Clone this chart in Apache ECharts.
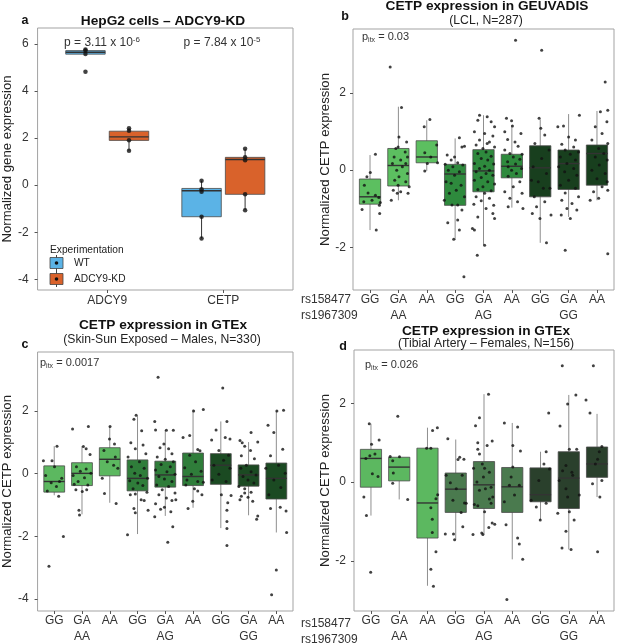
<!DOCTYPE html>
<html>
<head>
<meta charset="utf-8">
<title>ADCY9 knock-down and CETP expression</title>
<script src="https://cdn.jsdelivr.net/npm/echarts@6/dist/echarts.min.js"></script>
<style>
    html, body {margin: 0; padding: 0; background: #fff;}
    #chart {width: 617px; height: 644px;}
</style>
</head>
<body>
<div id="chart"></div>
<script>
// ---------- panel a : HepG2 cells ----------
const genes = ['ADCY9', 'CETP'];
const experiments = ['WT', 'ADCY9-KD'];
// [min, Q1, median, Q3, max] for each gene
const wtBoxes = [[5.56, 5.56, 5.64, 5.71, 5.76], [-2.26, -1.34, -0.24, -0.14, 0.19]];
const kdBoxes = [[1.46, 1.90, 2.05, 2.29, 2.41], [-1.06, -0.39, 1.09, 1.18, 1.54]];
const wtPoints = [[5.76, 5.72, 5.57, 4.81], [0.19, -0.17, -0.28, -1.34, -2.26]];
const kdPoints = [[2.41, 2.31, 1.91, 1.46], [1.54, 1.18, 1.06, -0.39, -1.06]];
const pMantissa = ['3.11', '7.84'];
const pExponent = ['-6', '-5'];

// ---------- panels b-d : genotype groups ----------
const rs158477 = ['GG', 'GA', 'AA', 'GG', 'GA', 'AA', 'GG', 'GA', 'AA'];
const rs1967309 = ['', 'AA', '', '', 'AG', '', '', 'GG', ''];
const pItx = ['0.03', '0.0017', '0.026'];

// b : GEUVADIS, [min, Q1, median, Q3, max]
const geuvadisBoxes = [
    [-1.55, -0.88, -0.69, -0.23, 0.39], [-0.78, -0.41, 0.12, 0.56, 1.64], [-0.02, 0.19, 0.34, 0.76, 1.29],
    [-1.81, -0.91, -0.10, 0.15, 0.82], [-1.94, -0.56, -0.02, 0.53, 1.42], [-0.97, -0.20, 0.10, 0.41, 1.16],
    [-1.88, -0.69, 0.06, 0.63, 1.31], [-1.21, -0.50, 0.17, 0.52, 1.45], [-0.78, -0.39, 0.43, 0.65, 1.53]
];
// jitter offset and value of each sample, one list per genotype group
const geuvadisPoints = [
    [[0.19, 0.41], [0.01, -0.06], [-0.11, -0.17], [-0.2, -0.39], [-0.07, -0.59], [0.19, -0.65], [0.31, -0.71], [0.07, -0.78], [-0.22, -0.82], [0.36, -0.84], [0.33, -0.91], [-0.28, -1.02], [0.34, -1.12], [0.22, -1.55]],
    [[-0.29, 2.67], [0.11, 1.62], [0.02, 0.86], [0.29, 0.73], [-0.01, 0.6], [-0.09, 0.56], [0.24, 0.47], [-0.15, 0.34], [0.32, 0.34], [0.08, 0.26], [-0.21, 0.17], [0.26, 0.17], [0.14, 0.09], [-0.06, 0], [0.32, -0.09], [0.02, -0.17], [-0.13, -0.26], [0.26, -0.3], [-0.01, -0.39], [0.38, -0.43], [-0.18, -0.52], [0.08, -0.56], [-0.04, -0.6], [0.34, -0.6], [-0.25, -0.78]],
    [[0.11, 1.31], [-0.09, 1.12], [0.35, 0.65], [-0.07, 0.45], [0.14, 0.34], [0.38, 0.19], [0.02, 0.17], [-0.07, -0.02]],
    [[0.15, 0.84], [0.33, 0.62], [0.24, 0.6], [-0.28, 0.39], [-0.02, 0.34], [-0.14, 0.26], [0.09, 0.19], [-0.35, 0.15], [0.27, 0.13], [-0.08, 0.09], [-0.24, 0], [0.15, -0.04], [-0.02, -0.13], [-0.32, -0.3], [-0.14, -0.34], [0.21, -0.39], [0.04, -0.52], [-0.2, -0.6], [0.33, -0.69], [-0.38, -0.78], [0.09, -0.9], [-0.11, -0.9], [0.24, -1.03], [0.09, -1.29], [-0.26, -1.36], [0.15, -1.55], [-0.05, -1.79], [0.31, -2.76]],
    [[-0.14, 1.42], [0.13, 1.38], [0.27, 1.25], [-0.2, 1.29], [0.39, 1.12], [-0.32, 0.99], [0.04, 0.95], [0.33, 0.88], [-0.14, 0.78], [0.21, 0.73], [0.13, 0.69], [-0.26, 0.65], [0.39, 0.6], [-0.02, 0.56], [0.09, 0.47], [-0.2, 0.43], [0.27, 0.36], [-0.08, 0.3], [0.15, 0.26], [-0.32, 0.17], [0.36, 0.16], [0.04, 0.1], [-0.14, 0.04], [0.21, 0], [-0.26, -0.04], [0.09, -0.09], [0.33, -0.13], [-0.08, -0.19], [-0.32, -0.26], [0.15, -0.3], [0.39, -0.36], [-0.02, -0.43], [-0.2, -0.5], [0.27, -0.53], [0.04, -0.6], [-0.26, -0.69], [0.21, -0.73], [-0.08, -0.79], [-0.34, -0.88], [0.36, -0.91], [0.09, -0.99], [0.33, -1.12], [-0.2, -1.21], [0.39, -1.25], [-0.39, -1.51], [-0.32, -1.55], [0.04, -1.94], [-0.22, -2.2]],
    [[-0.19, 1.34], [-0.01, 1.28], [0.02, 1.14], [-0.25, 0.99], [0.32, 0.95], [-0.15, 0.79], [0.11, 0.73], [0.22, 0.62], [-0.25, 0.52], [-0.07, 0.43], [0.36, 0.41], [0.05, 0.34], [0.28, 0.28], [-0.15, 0.22], [0.13, 0.16], [-0.13, 0.09], [0.34, 0.04], [-0.01, 0], [0.16, -0.09], [-0.13, -0.16], [0.28, -0.3], [0.05, -0.43], [-0.25, -0.56], [0.36, -0.6], [-0.07, -0.73], [0.2, -0.82], [-0.13, -0.95], [0.39, -0.99], [0.13, 3.36]],
    [[0.05, 3.1], [-0.04, 1.34], [0.02, 1.08], [0.16, 0.91], [-0.19, 0.69], [0.31, 0.52], [0.05, 0.3], [-0.25, 0.09], [0.22, -0.09], [-0.31, -0.26], [-0.07, -0.3], [0.34, -0.47], [0.11, -0.47], [-0.21, -0.69], [0.16, -0.82], [-0.13, -0.95], [-0.28, -1.12], [0.38, -1.16], [-0.01, -1.25], [0.22, -1.88]],
    [[-0.18, 1.14], [-0.38, 1.12], [0.38, 1.42], [0, 0.86], [0.24, 0.78], [-0.24, 0.67], [0.18, 0.6], [-0.12, 0.52], [0.35, 0.47], [0.06, 0.41], [-0.29, 0.34], [0.24, 0.26], [-0.06, 0.17], [-0.35, 0.09], [0.18, 0.04], [-0.14, -0.04], [0.29, -0.13], [0, -0.26], [-0.29, -0.39], [0.24, -0.47], [-0.12, -0.59], [0.35, -0.69], [-0.24, -0.78], [0.12, -0.86], [-0.06, -0.99], [0.29, -1.03], [-0.26, -1.16], [0.06, -1.25], [-0.12, -2.07]],
    [[0.29, 2.28], [0.38, 1.55], [0.12, 1.51], [0.35, 1.25], [-0.06, 1.12], [0.18, 0.95], [-0.18, 0.78], [0.38, 0.69], [0.06, 0.56], [0.24, 0.43], [-0.06, 0.34], [0.36, 0.26], [0.08, 0.13], [-0.18, 0], [0.29, -0.09], [0, -0.22], [0.36, -0.3], [0.18, -0.43], [-0.12, -0.56], [0.38, -0.52], [0.06, -0.73], [-0.24, -0.78], [0.38, -2.16]]
];

// c : GTEx skin, sun exposed, males
const skinBoxes = [
    [-0.69, -0.59, -0.25, 0.25, 0.88], [-1.30, -0.38, 0.01, 0.35, 0.88], [-0.93, -0.07, 0.46, 0.83, 1.51],
    [-1.93, -0.55, -0.15, 0.44, 1.84], [-1.35, -0.43, -0.04, 0.40, 1.40], [-1.09, -0.38, -0.09, 0.66, 2.05],
    [-1.74, -0.34, 0.27, 0.64, 1.67], [-1.33, -0.40, -0.04, 0.28, 1.01], [-1.88, -0.81, -0.15, 0.34, 2.00]
];
const skinPoints = [
    [[-0.39, 0.41], [-0.08, 0.41], [0.1, 0.88], [-0.31, -0.06], [0.01, 0.22], [0.19, -0.25], [0.27, -0.15], [-0.25, -0.55], [0.16, -0.72], [0.33, -2.01], [-0.19, -2.96], [-0.11, -0.29], [0.08, -0.41]],
    [[-0.34, 1.43], [0.23, 1.51], [0.05, 0.87], [0.15, 0.8], [0.29, 0.61], [-0.2, 0.22], [0.15, 0.15], [-0.06, 0.08], [0.32, 0.01], [-0.32, -0.06], [0.09, -0.13], [-0.14, -0.25], [0.21, -0.36], [-0.22, -0.51], [0.01, -0.57], [0.17, -0.51], [-0.11, -1.17], [-0.09, -1.32], [-0.28, -0.34]],
    [[0.01, 1.51], [-0.01, 1.11], [0.17, 0.95], [-0.21, 0.74], [0.2, 0.53], [-0.09, 0.38], [0.14, 0.27], [0.29, 0.17], [-0.27, -0.15], [-0.19, -0.63], [0.23, -0.95]],
    [[-0.05, 1.87], [-0.13, 1.74], [0.15, 1.37], [-0.24, 0.99], [0.2, 0.92], [-0.08, 0.8], [0.3, 0.64], [-0.34, 0.53], [0.07, 0.38], [-0.22, 0.22], [0.24, 0.17], [-0.1, 0.01], [0.1, -0.06], [0.36, -0.15], [-0.28, -0.23], [0.01, -0.3], [0.19, -0.38], [-0.16, -0.48], [0.34, -0.59], [-0.26, -0.67], [-0.08, -0.65], [0.13, -0.83], [0.24, -0.86], [-0.13, -1.11], [-0.08, -1.25], [-0.36, -1.95], [0.38, -1.17]],
    [[-0.26, 3.08], [-0.38, 1.67], [-0.35, 1.4], [0.04, 1.39], [0.29, 1.39], [-0.05, 0.95], [-0.19, 0.83], [0.12, 0.8], [0.24, 0.64], [-0.29, 0.53], [0, 0.46], [0.29, 0.38], [-0.15, 0.29], [0.18, 0.22], [-0.35, 0.12], [0.06, 0.06], [0.35, -0.02], [-0.23, -0.09], [-0.03, -0.17], [0.24, -0.25], [-0.31, -0.36], [0.12, -0.41], [-0.11, -0.51], [0.35, -0.62], [-0.23, -0.67], [0.04, -0.78], [0.24, -0.86], [-0.35, -0.96], [-0.03, -1.07], [-0.17, -1.14], [0.2, -1.22], [-0.38, -1.38], [0.27, -1.7], [0.09, -2.19], [0.38, -0.83]],
    [[0.37, 2.05], [0.02, 2.0], [-0.12, 1.22], [-0.36, 1.16], [0.17, 0.77], [-0.12, 0.59], [0.25, 0.73], [0.09, 0.38], [-0.3, 0.19], [0.29, 0.08], [-0.06, -0.02], [-0.22, -0.2], [0.17, -0.25], [-0.26, -0.36], [0.05, -0.48], [0.32, -0.67], [-0.01, -0.88], [-0.18, -1.11], [0.17, -0.55], [0.37, -0.27]],
    [[0.07, 2.74], [0.22, 1.67], [-0.17, 1.4], [0.16, 1.16], [0.33, 1.11], [-0.33, 1.08], [-0.07, 0.74], [0.28, 0.59], [0.1, 0.43], [-0.25, 0.27], [0.33, 0.17], [-0.07, -0.02], [-0.31, -0.2], [0.19, -0.25], [0.02, -0.67], [0.37, -0.7], [0.25, -0.93], [0.22, -1.17], [0.22, -1.53], [0.22, -1.75], [0.22, -2.3]],
    [[0.09, 1.32], [-0.31, 1.06], [-0.23, 0.99], [0.33, 1.01], [-0.14, 0.88], [0.07, 0.74], [-0.26, 0.57], [0.21, 0.48], [-0.08, 0.27], [-0.28, 0.17], [0.09, 0.06], [0.27, -0.04], [-0.2, -0.09], [-0.02, -0.2], [0.19, -0.3], [-0.35, -0.41], [-0.14, -0.48], [0.09, -0.59], [-0.26, -0.72], [-0.02, -0.75], [0.15, -0.88], [-0.31, -0.83], [0.33, -1.35], [0.29, -1.46], [-0.14, -0.62]],
    [[0.26, 2.03], [0.02, 2.0], [-0.3, 1.55], [-0.09, 1.32], [0.23, 0.78], [-0.21, 0.57], [0.08, 0.27], [-0.38, 0.17], [0.32, 0.01], [-0.09, -0.2], [0.16, -0.44], [-0.27, -0.67], [-0.21, -1.11], [0.14, -1.07], [0.35, -1.19], [0.37, -1.88], [0, -3.08], [-0.17, -3.87]]
];

// d : GTEx tibial artery, females
const arteryBoxes = [
    [-0.85, -0.13, 0.60, 0.83, 1.48], [-0.44, 0.03, 0.38, 0.63, 0.65], [-2.63, -1.42, -0.53, 0.86, 1.38],
    [-1.46, -0.77, -0.18, 0.23, 1.08], [-1.33, -0.67, -0.07, 0.52, 2.23], [-1.96, -0.77, -0.12, 0.37, 1.50],
    [-0.96, -0.50, -0.32, 0.36, 0.77], [-1.71, -0.67, 0.10, 0.77, 2.21], [-0.38, 0.12, 0.46, 0.89, 1.73]
];
const arteryPoints = [
    [[-0.06, 1.48], [0.29, 1.07], [0.02, 0.96], [0.14, 0.71], [-0.04, 0.67], [-0.18, 0.6], [0.25, 0.14], [0.05, 0.21], [-0.25, -0.38], [-0.16, -0.85], [-0.01, -2.29]],
    [[-0.05, 1.67], [-0.32, 0.65], [0.01, 0.64], [-0.23, 0.54], [-0.21, 0.23], [-0.23, -0.03], [0.3, -0.44]],
    [[0.35, 1.38], [0.18, 1.31], [-0.03, 0.86], [0.12, 0.86], [0.36, -0.32], [0.3, -0.42], [0.12, -0.65], [0.17, -0.94], [0.17, -1.28], [0.3, -1.77], [0.12, -2.21], [0.21, -2.64]],
    [[-0.28, 1.1], [0.14, 0.63], [0.08, 0.57], [0.29, 0.58], [-0.34, 0.17], [-0.19, -0.02], [0.23, 0.17], [0.02, -0.17], [-0.1, -0.46], [0.31, -0.53], [0.37, -0.54], [0.19, -0.77], [0.25, -1.13], [-0.37, -1.32], [-0.08, -1.32], [-0.04, -1.46]],
    [[0.16, 2.23], [-0.16, 1.63], [-0.3, 1.43], [-0.22, 1.0], [0.29, 1.04], [0.11, 0.93], [-0.22, 0.83], [-0.16, 0.71], [-0.06, 0.46], [-0.37, 0.35], [0.02, 0.35], [0.19, 0.25], [-0.02, 0.13], [-0.25, 0], [0.25, -0.13], [0.05, -0.17], [-0.16, -0.21], [0.31, -0.38], [0.19, -0.43], [-0.34, -0.57], [-0.22, -0.6], [0.25, -0.54], [0.02, -0.75], [0.29, -1.04], [0.38, -1.07], [0.17, -1.15], [-0.08, -1.29], [-0.04, -1.33], [-0.39, -1.33]],
    [[-0.28, 1.5], [0.19, 1.4], [0.02, 0.93], [0.29, 0.79], [0.02, 0.38], [-0.04, 0.13], [-0.1, -0.08], [0.25, -0.08], [0.08, -0.33], [-0.28, -0.5], [-0.22, -1.08], [0.19, -1.42], [0.25, -1.57], [0.37, -1.96], [-0.19, -2.98]],
    [[0.29, 1.75], [0.2, 0.77], [0.12, 0.46], [0.32, 0.33], [-0.06, 0.04], [-0.33, -0.46], [0.2, -0.54], [-0.15, -0.63], [-0.01, -0.96]],
    [[-0.23, 2.95], [0.25, 2.21], [-0.04, 1.98], [-0.31, 1.42], [0.02, 0.83], [0.28, 0.83], [-0.1, 0.42], [-0.22, 0.29], [0.11, 0.25], [0.14, 0.17], [-0.34, 0.04], [-0.1, -0.17], [0.37, -0.33], [-0.04, -0.38], [-0.39, -0.79], [0.02, -0.75], [0.19, -0.96], [-0.1, -1.25], [-0.24, -1.67], [0.08, -1.71]],
    [[-0.13, 2.95], [-0.39, 2.08], [-0.25, 1.75], [0.17, 0.9], [0.08, 0.77], [0.02, 0.58], [-0.06, 0.46], [0.17, 0.04], [-0.16, -0.04], [0.1, -0.38], [0.02, -1.77]]
];

// ---------- styling ----------
const FONT = 'Liberation Sans';
const TXT = '#333';
const dodge = 0.1875;
const genoIdx = rs158477.map((g, i) => i);

const chart = echarts.init(document.getElementById('chart'), null, {renderer: 'canvas'});

const boxSeries = (k, rows, fills, st) => ({
    type: 'custom',
    xAxisIndex: k,
    yAxisIndex: k,
    data: rows,
    encode: {x: 0, y: [1, 2, 3, 4, 5]},
    silent: true,
    z: 2,
    renderItem: (params, api) => {
        let x = api.value(0);
        let pt = d => api.coord([x, api.value(d)]);
        let lo = pt(1), q1 = pt(2), med = pt(3), q3 = pt(4), hi = pt(5);
        let w = api.size([st.width, 0])[0];
        let left = lo[0] - w / 2;
        return {
            type: 'group',
            children: [
                {type: 'line', shape: {x1: lo[0], y1: lo[1], x2: hi[0], y2: hi[1]}, style: {stroke: st.whisker, lineWidth: 1}},
                {type: 'rect', shape: {x: left, y: q3[1], width: w, height: q1[1] - q3[1]},
                    style: {fill: fills[api.value(6)], stroke: st.border, lineWidth: 0.8}},
                {type: 'line', shape: {x1: left, y1: med[1], x2: left + w, y2: med[1]}, style: {stroke: st.median, lineWidth: 1.4}}
            ]
        };
    }
});

const pointSeries = (k, data, size) => ({
    type: 'scatter',
    xAxisIndex: k,
    yAxisIndex: k,
    data: data,
    symbolSize: size,
    itemStyle: {color: '#111'},
    silent: true,
    z: 3
});

const genoRows = boxes => boxes.map((b, i) => [i].concat(b, [Math.floor(i / 3)]));
const genoPts = pts => pts.flatMap((grp, i) => grp.map(([dx, v]) => [i + dx, v]));

const yAxis = (k, min, max, ticks, name, gap, margin) => ({
    type: 'value', gridIndex: k, min: min, max: max,
    name: name, nameLocation: 'middle', nameGap: gap,
    nameTextStyle: {fontFamily: FONT, fontSize: 13.2, color: '#222'},
    axisLine: {show: false, onZero: false},
    splitLine: {show: false},
    axisTick: {show: true, length: 3, customValues: ticks, lineStyle: {color: '#555'}},
    axisLabel: {customValues: ticks, fontFamily: FONT, fontSize: 12, color: TXT, margin: margin}
});

const genoX = k => ({
    type: 'value', gridIndex: k, min: -0.6, max: 8.6,
    axisLine: {show: false, onZero: false},
    splitLine: {show: false},
    axisTick: {show: true, length: 3, customValues: genoIdx, lineStyle: {color: '#555'}},
    axisLabel: {
        customValues: genoIdx,
        formatter: v => rs158477[v] + '\n' + (rs1967309[v] || ' '),
        fontFamily: FONT, fontSize: 12, color: TXT, lineHeight: 15.5, margin: 2
    }
});

const gridBase = {show: true, borderColor: '#a3a3a3', borderWidth: 1, backgroundColor: '#fff'};

const txt = (x, y, text, extra) => ({
    type: 'text', x: x, y: y, silent: true,
    style: Object.assign({text: text, fontFamily: FONT, fontSize: 12, fill: '#222',
        align: 'center', verticalAlign: 'middle'}, extra || {})
});

const pLabel = (x, y, i) => txt(x, y, `{n|p}{s|itx}{n| = ${pItx[i]}}`, {
    align: 'left',
    rich: {n: {fontFamily: FONT, fontSize: 11, fill: TXT, lineHeight: 13},
        s: {fontFamily: FONT, fontSize: 7, fill: TXT, lineHeight: 13, verticalAlign: 'bottom'}}
});

const legendKey = (y, fill) => [
    {type: 'line', silent: true, shape: {x1: 56.5, y1: y - 8, x2: 56.5, y2: y + 8}, style: {stroke: '#444', lineWidth: 1}},
    {type: 'rect', silent: true, shape: {x: 50, y: y - 5.5, width: 13, height: 11}, style: {fill: fill, stroke: '#444', lineWidth: 0.8}},
    {type: 'circle', silent: true, shape: {cx: 56.5, cy: y, r: 1.8}, style: {fill: '#111'}}
];

const expFills = ['#5BB3E6', '#D9622B'];
const geuvadisFills = ['#5CBF60', '#2E8A3D', '#183F1E'];
const skinFills = ['#5CB860', '#2F7D3A', '#1B4A22'];
const arteryFills = ['#5CB860', '#4A7A4E', '#2A402C'];
const genoStyle = {width: 0.75, whisker: '#8f8f8f', border: '#4a4a4a', median: '#333'};

const aRows = genes.map((g, i) => [i - dodge].concat(wtBoxes[i], [0]))
    .concat(genes.map((g, i) => [i + dodge].concat(kdBoxes[i], [1])));
const aPts = genes.flatMap((g, i) => wtPoints[i].map(v => [i - dodge, v])
    .concat(kdPoints[i].map(v => [i + dodge, v])));

const option = {
    animation: false,
    backgroundColor: '#fff',
    textStyle: {fontFamily: FONT},
    grid: [
        Object.assign({left: 31, top: 28, width: 262, height: 262}, gridBase),
        Object.assign({left: 353, top: 29, width: 261, height: 261}, gridBase),
        Object.assign({left: 30, top: 352, width: 263, height: 263}, gridBase),
        Object.assign({left: 354, top: 350, width: 260, height: 264}, gridBase)
    ],
    xAxis: [
        {
            type: 'value', gridIndex: 0, min: -0.6, max: 1.6,
            axisLine: {show: false, onZero: false}, splitLine: {show: false},
            axisTick: {show: true, length: 3, customValues: [0, 1], lineStyle: {color: '#555'}},
            axisLabel: {customValues: [0, 1], formatter: v => genes[v], fontFamily: FONT, fontSize: 12, color: TXT, margin: 5}
        },
        genoX(1), genoX(2), genoX(3)
    ],
    yAxis: [
        yAxis(0, -4.45, 6.67, [-4, -2, 0, 2, 4, 6], 'Normalized gene expression', 13, 9),
        yAxis(1, -3.10, 3.65, [-2, 0, 2], 'Normalized CETP expression', 18, 7),
        yAxis(2, -4.39, 3.89, [-4, -2, 0, 2], 'Normalized CETP expression', 13, 9),
        yAxis(3, -3.27, 3.35, [-2, 0, 2], 'Normalized CETP expression', 18, 8)
    ],
    series: [
        boxSeries(0, aRows, expFills, {width: 0.34, whisker: '#333', border: '#4a4a4a', median: '#333'}),
        pointSeries(0, aPts, 4.5),
        boxSeries(1, genoRows(geuvadisBoxes), geuvadisFills, genoStyle),
        pointSeries(1, genoPts(geuvadisPoints), 3),
        boxSeries(2, genoRows(skinBoxes), skinFills, genoStyle),
        pointSeries(2, genoPts(skinPoints), 3),
        boxSeries(3, genoRows(arteryBoxes), arteryFills, genoStyle),
        pointSeries(3, genoPts(arteryPoints), 3)
    ],
    graphic: {
        elements: [
            // panel a
            txt(25, 21, 'a', {fontWeight: 'bold', fontSize: 12.5, fill: '#111'}),
            txt(163, 21, 'HepG2 cells \u2013 ADCY9-KD', {fontWeight: 'bold', fontSize: 13.7, fill: '#111'}),
            txt(102, 43, `{n|p = ${pMantissa[0]} x 10}{s|${pExponent[0]}}`, {
                rich: {n: {fontFamily: FONT, fontSize: 12, fill: TXT, lineHeight: 14},
                    s: {fontFamily: FONT, fontSize: 8, fill: TXT, lineHeight: 14, verticalAlign: 'top'}}
            }),
            txt(222, 43, `{n|p = ${pMantissa[1]} x 10}{s|${pExponent[1]}}`, {
                rich: {n: {fontFamily: FONT, fontSize: 12, fill: TXT, lineHeight: 14},
                    s: {fontFamily: FONT, fontSize: 8, fill: TXT, lineHeight: 14, verticalAlign: 'top'}}
            }),
            txt(50, 250, 'Experimentation', {align: 'left', fontSize: 10.2, fill: '#222'}),
            ...legendKey(263, expFills[0]),
            ...legendKey(279, expFills[1]),
            txt(74, 263, experiments[0], {align: 'left', fontSize: 10.2, fill: '#222'}),
            txt(74, 279, experiments[1], {align: 'left', fontSize: 10.2, fill: '#222'}),
            // panel b
            txt(345, 17, 'b', {fontWeight: 'bold', fontSize: 12.5, fill: '#111'}),
            txt(487, 6, 'CETP expression in GEUVADIS', {fontWeight: 'bold', fontSize: 13.7, fill: '#111'}),
            txt(486, 21, '(LCL, N=287)', {fontSize: 12.2, fill: '#222'}),
            pLabel(362, 37, 0),
            txt(301, 299.75, 'rs158477', {align: 'left', fill: TXT}),
            txt(301, 315.25, 'rs1967309', {align: 'left', fill: TXT}),
            // panel c
            txt(25, 345, 'c', {fontWeight: 'bold', fontSize: 12.5, fill: '#111'}),
            txt(163, 325, 'CETP expression in GTEx', {fontWeight: 'bold', fontSize: 13.7, fill: '#111'}),
            txt(162, 340, '(Skin-Sun Exposed \u2013 Males, N=330)', {fontSize: 12.2, fill: '#222'}),
            pLabel(40, 363, 1),
            // panel d
            txt(343, 347, 'd', {fontWeight: 'bold', fontSize: 12.5, fill: '#111'}),
            txt(486, 331, 'CETP expression in GTEx', {fontWeight: 'bold', fontSize: 13.7, fill: '#111'}),
            txt(486, 344, '(Tibial Artery \u2013 Females, N=156)', {fontSize: 12.2, fill: '#222'}),
            pLabel(365, 365, 2),
            txt(301, 623.75, 'rs158477', {align: 'left', fill: TXT}),
            txt(301, 639.25, 'rs1967309', {align: 'left', fill: TXT})
        ]
    }
};

chart.setOption(option);
</script>
</body>
</html>
